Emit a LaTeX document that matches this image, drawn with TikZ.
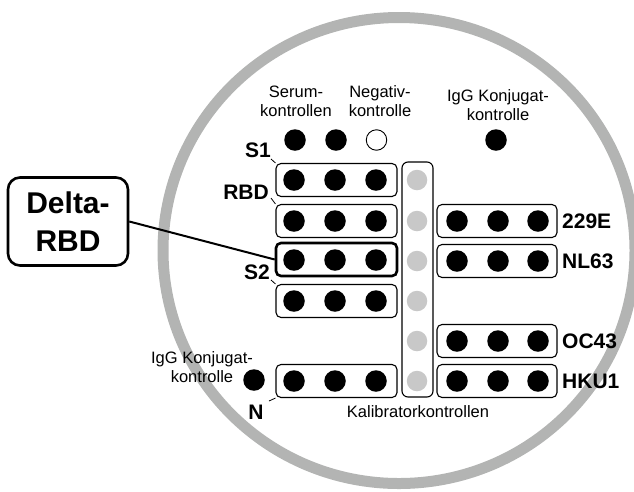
\documentclass[tikz,border=0pt]{standalone}
\usepackage{fontspec}
\setmainfont{Liberation Sans}
\definecolor{ringgray}{HTML}{B3B4B3}
\definecolor{calgray}{HTML}{C8C8C8}
\begin{document}
\begin{tikzpicture}[x=1pt,y=-1pt,
  dot/.style={circle,fill=black,inner sep=0pt,minimum size=21.5pt},
  opendot/.style={circle,draw=black,line width=0.9pt,fill=white,inner sep=0pt,minimum size=20.5pt},
  caldot/.style={circle,fill=calgray,inner sep=0pt,minimum size=20.5pt},
  rowbox/.style={draw=black,line width=1.1pt,rounded corners=5pt,minimum width=121pt,minimum height=33pt,inner sep=0pt},
  boldbox/.style={rowbox,line width=2.6pt},
  small/.style={font=\fontsize{16.5}{19}\selectfont,align=center,inner sep=0pt},
  tag/.style={font=\fontsize{21}{22}\selectfont\bfseries,inner sep=0pt},
  leader/.style={draw=black,line width=0.8pt}]
\useasboundingbox (0,0) rectangle (634,491);
% ring
\draw[ringgray,line width=11pt] (399,250.5) ellipse [x radius=236, y radius=233];

% calibrator column
\node[draw=black,line width=1.1pt,rounded corners=6pt,minimum width=31pt,minimum height=235pt,inner sep=0pt] (cal) at (417.5,279.5) {};
\foreach \i/\y in {1/180,2/221,3/261,4/301,5/341,6/381}
  \node[caldot] (c\i) at (417,\y) {};

% left row boxes
\foreach \i/\y in {1/180,2/221,4/301,5/381}{
  \node[rowbox] (b\i) at (336.5,\y) {};
  \node[dot] (b\i a) at (294,\y) {};
  \node[dot] (b\i b) at (335,\y) {};
  \node[dot] (b\i c) at (376,\y) {};
}
\node[boldbox] (b3) at (336.5,259.5) {};
\node[dot] (b3a) at (294,260) {};
\node[dot] (b3b) at (335,260) {};
\node[dot] (b3c) at (376,260) {};

% right row boxes
\foreach \i/\y/\t in {1/221/229E,2/261/NL63,3/341/OC43,4/381/HKU1}{
  \node[rowbox,minimum width=120pt] (r\i) at (497,\y) {};
  \node[dot] (r\i a) at (457,\y) {};
  \node[dot] (r\i b) at (498,\y) {};
  \node[dot] (r\i c) at (538,\y) {};
  \node[tag,anchor=west] (rl\i) at (562,\y) {\t};
}

% top controls
\node[dot] (sa) at (295,140) {};
\node[dot] (sb) at (336,140) {};
\node[opendot] (neg) at (376.5,140) {};
\node[dot] (igg) at (496,140) {};
\node[small] (serumtxt) at (296,101) {Serum-\\kontrollen};
\node[small] (negtxt) at (380,101) {Negativ-\\kontrolle};
\node[small] (iggtxt) at (498,105) {IgG Konjugat-\\kontrolle};

% bottom-left control
\node[dot] (igg2) at (254,380) {};
\node[small] (igg2txt) at (202,367) {IgG Konjugat-\\kontrolle};

\node[small] (kal) at (418,412) {Kalibratorkontrollen};

% row labels
\node[tag] (s1) at (258,150) {S1};
\node[tag] (rbd) at (246,192) {RBD};
\node[tag] (s2) at (257,272) {S2};
\node[tag] (n) at (256,412) {N};
\draw[leader] (271,159) -- (b1.north west);
\draw[leader] (271,198) -- (b2.north west);
\draw[leader] (271,280) -- (b4.north west);
\draw[leader] (269,401) -- (b5.south west);

% Delta-RBD callout
\node[draw=black,line width=2.6pt,rounded corners=12pt,minimum width=120pt,minimum height=88pt,inner sep=0pt,align=center,
  font=\fontsize{30}{38}\selectfont\bfseries] (delta) at (68,221.5) {Delta-\\RBD};
\draw[black,line width=2pt] (delta.east) -- (b3.west);
\end{tikzpicture}
\end{document}
